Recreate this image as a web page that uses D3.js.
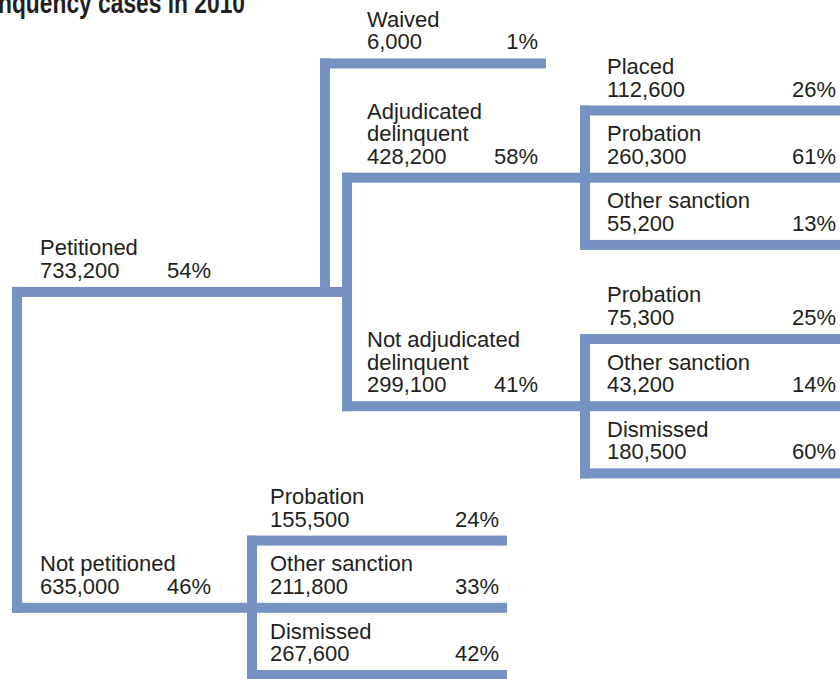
<!DOCTYPE html>
<html>
<head>
<meta charset="utf-8">
<script src="https://cdn.jsdelivr.net/npm/d3@7"></script>
<style>
  body { margin: 0; background: #fff; }
  svg { display: block; }
</style>
</head>
<body>
<script>
const w = 840
const h = 679

// case flow, parent = -1 means the unlabelled root (all cases)
const names = ['Petitioned', 'Not petitioned', 'Waived', 'Adjudicated\ndelinquent', 'Not adjudicated\ndelinquent',
    'Placed', 'Probation', 'Other sanction', 'Probation', 'Other sanction', 'Dismissed',
    'Probation', 'Other sanction', 'Dismissed']
const counts = [733200, 635000, 6000, 428200, 299100, 112600, 260300, 55200, 75300, 43200, 180500, 155500, 211800, 267600]
const shares = [54, 46, 1, 58, 41, 26, 61, 13, 25, 14, 60, 24, 33, 42]
const parents = [-1, -1, 0, 0, 0, 3, 3, 3, 4, 4, 4, 1, 1, 1]

const title = 'delinquency cases in 2010'

// layout: connector x, text x, percent column and line end for each group (by parent index)
const groups = new Map([
    [-1, {x: 17, tx: 40, pctX: 211}],
    [0, {x: 347, tx: 367, pctX: 538, end: 546}],
    [1, {x: 252, tx: 270, pctX: 499, end: 507}],
    [3, {x: 585, tx: 607, pctX: 836, end: 850}],
    [4, {x: 585, tx: 607, pctX: 836, end: 850}]
])
const earlyBranch = new Map([[2, 325]])   // Waived branches off before the main connector
const slotGap = new Map([[5, -0.3], [8, 0.4]])

const lineColor = '#7692c2'
const lw = 10

const svg = d3.select('body').append('svg')
    .attr('width', w)
    .attr('height', h)

// condensed bold title, cut off at the top-left like the source
svg.append('text')
    .attr('transform', 'translate(245,13) scale(0.76,1)')
    .attr('text-anchor', 'end')
    .style('font-family', '"Liberation Sans", Arial, sans-serif')
    .style('font-weight', 'bold')
    .style('font-size', '30px')
    .style('fill', '#231f20')
    .text(title)

// build nodes
const nodes = names.map(function (n, i) {
    return {id: i, name: n, count: counts[i], share: shares[i], parent: parents[i], children: []}
})
nodes.forEach(function (d) {
    if (d.parent >= 0) nodes[d.parent].children.push(d)
})

// leaf slots in depth-first order
let slot = -1.7
function walk(d) {
    if (d.children.length === 0) {
        slot += 1 + (slotGap.get(d.id) || 0)
        d.slot = slot
    } else {
        d.children.forEach(walk)
    }
}
const roots = nodes.filter(function (d) { return d.parent === -1 })
roots.forEach(walk)

const y = d3.scaleLinear()
    .domain([0, 8.4])
    .range([110.5, 675])

function place(d) {
    d.children.forEach(place)
    if (d.children.length === 0) {
        d.y = y(d.slot)
    } else if (d.children.length === 3 && d.children[1].children.length === 0) {
        d.y = d.children[1].y
    } else {
        d.y = (d.children[1].y + d.children[2].y) / 2
    }
}
roots.forEach(place)

const fmt = d3.format(',')
const lines = svg.append('g').style('fill', lineColor)

// horizontal bars
nodes.forEach(function (d) {
    const g = groups.get(d.parent)
    const x0 = earlyBranch.has(d.id) ? earlyBranch.get(d.id) : g.x
    const x1 = d.children.length ? groups.get(d.id).x + lw / 2 : g.end
    lines.append('rect')
        .attr('x', x0 - lw / 2)
        .attr('y', d.y - lw / 2)
        .attr('width', x1 - x0 + lw / 2)
        .attr('height', lw)
})

// vertical connectors
const groupKids = [[-1, roots]].concat(nodes.filter(function (d) { return d.children.length })
    .map(function (d) { return [d.id, d.children] }))

groupKids.forEach(function (gk) {
    const g = groups.get(gk[0])
    const kids = gk[1].filter(function (k) { return !earlyBranch.has(k.id) })
    const ext = d3.extent(kids, function (k) { return k.y })
    lines.append('rect')
        .attr('x', g.x - lw / 2)
        .attr('y', ext[0] - lw / 2)
        .attr('width', lw)
        .attr('height', ext[1] - ext[0] + lw)
    gk[1].filter(function (k) { return earlyBranch.has(k.id) }).forEach(function (k) {
        const py = nodes[gk[0]].y
        lines.append('rect')
            .attr('x', earlyBranch.get(k.id) - lw / 2)
            .attr('y', k.y - lw / 2)
            .attr('width', lw)
            .attr('height', py - k.y)
    })
})

// labels
const labels = svg.append('g')
    .style('font-family', '"Liberation Sans", Arial, sans-serif')
    .style('font-size', '22px')
    .style('fill', '#231f20')

nodes.forEach(function (d) {
    const g = groups.get(d.parent)
    const base = d.y - 14
    const parts = d.name.split('\n')
    parts.forEach(function (p, i) {
        labels.append('text')
            .attr('x', g.tx)
            .attr('y', base - 22.5 * (parts.length - i))
            .text(p)
    })
    labels.append('text')
        .attr('x', g.tx)
        .attr('y', base)
        .text(fmt(d.count))
    labels.append('text')
        .attr('x', g.pctX)
        .attr('y', base)
        .attr('text-anchor', 'end')
        .text(d.share + '%')
})
</script>
</body>
</html>
